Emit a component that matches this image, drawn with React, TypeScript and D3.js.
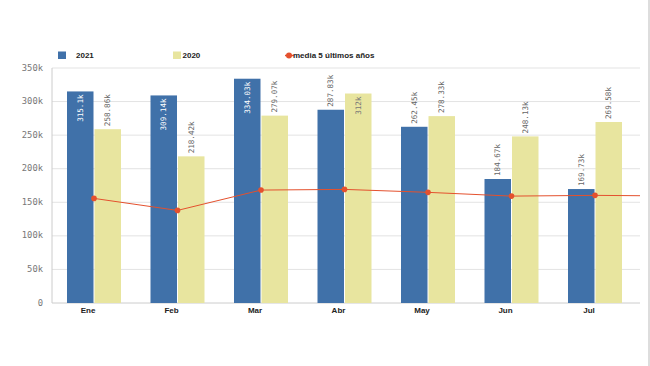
import React from 'react';
import * as d3 from 'd3';

const months = ['Ene', 'Feb', 'Mar', 'Abr', 'May', 'Jun', 'Jul'];
const values2021 = [315100, 309140, 334030, 287830, 262450, 184670, 169730];
const values2020 = [258860, 218420, 279070, 312000, 278330, 248130, 269580];
const labels2021 = ['315.1k', '309.14k', '334.03k', '287.83k', '262.45k', '184.67k', '169.73k'];
const labels2020 = ['258.86k', '218.42k', '279.07k', '312k', '278.33k', '248.13k', '269.58k'];
const media5 = [155800, 137900, 168200, 169200, 164800, 159200, 160300];
const yTicks = [0, 50000, 100000, 150000, 200000, 250000, 300000, 350000];

const W = 650;
const H = 366;
const plot = { left: 52, right: 640, top: 68, bottom: 303 };

const BLUE = '#4071a9';
const YELLOW = '#e8e59f';
const RED = '#e4512e';
const MONO = '"DejaVu Sans Mono", monospace';
const SANS = '"Liberation Sans", Arial, sans-serif';

export default function App() {
  const x0 = d3.scaleBand<string>().domain(months).range([52.25, 636.75]).padding(0);
  const y = d3.scaleLinear().domain([0, 350000]).range([plot.bottom, plot.top]);
  const barW = 26.5;
  const gap = 1;

  const center = (m: string) => (x0(m) ?? 0) + x0.bandwidth() / 2;

  const linePts: [number, number][] = months.map((m, i) => [center(m), y(media5[i])]);
  linePts.push([plot.right, y(media5[media5.length - 1] - 500)]);
  const line = d3.line();

  const barLabel = (cx: number, v: number, label: string, inside: string, key: string) => {
    const top = y(v);
    const fits = top - 3 - 35 >= plot.top;
    if (fits) {
      return (
        <text key={key} transform={`translate(${cx + 0.5},${top - 3}) rotate(-90)`}
          textAnchor="start" dominantBaseline="middle" fontFamily={MONO} fontSize={7.6} fill="#666">
          {label}
        </text>
      );
    }
    return (
      <text key={key} transform={`translate(${cx + 0.5},${top + 3}) rotate(-90)`}
        textAnchor="end" dominantBaseline="middle" fontFamily={MONO} fontSize={7.6} fill={inside}>
        {label}
      </text>
    );
  };

  return (
    <svg width={W} height={H} style={{ position: 'absolute', left: 0, top: 0, background: '#fff' }}>
      {/* legend */}
      <rect x={58} y={51.5} width={8} height={7.5} fill={BLUE} />
      <text x={76} y={55.5} dominantBaseline="middle" fontFamily={SANS} fontSize={8} fontWeight="bold" fill="#222">2021</text>
      <rect x={173} y={51.5} width={8} height={7.5} fill={YELLOW} />
      <text x={182.5} y={55.5} dominantBaseline="middle" fontFamily={SANS} fontSize={8} fontWeight="bold" fill="#222">2020</text>
      <line x1={285} x2={294} y1={55.5} y2={55.5} stroke={RED} strokeWidth={1.5} />
      <circle cx={289} cy={55.5} r={3} fill={RED} />
      <text x={293} y={55.5} dominantBaseline="middle" fontFamily={SANS} fontSize={8} fontWeight="bold" fill="#222">media 5 últimos años</text>

      {/* grid */}
      {yTicks.map(t => (
        <g key={t}>
          <line x1={plot.left} x2={plot.right} y1={y(t)} y2={y(t)} stroke={t === 0 ? '#ccc' : '#e3e3e3'} strokeWidth={1} />
          <text x={43} y={y(t)} textAnchor="end" dominantBaseline="middle" fontFamily={MONO} fontSize={8.8} fill="#777">
            {t === 0 ? '0' : `${t / 1000}k`}
          </text>
        </g>
      ))}
      <line x1={plot.left} x2={plot.left} y1={plot.top} y2={plot.bottom} stroke="#ccc" />

      {/* bars */}
      {months.map((m, i) => {
        const c = center(m);
        return (
          <g key={m}>
            <rect x={c - gap / 2 - barW} y={y(values2021[i])} width={barW} height={plot.bottom - y(values2021[i])} fill={BLUE} />
            <rect x={c + gap / 2} y={y(values2020[i])} width={barW} height={plot.bottom - y(values2020[i])} fill={YELLOW} />
          </g>
        );
      })}

      {/* media line */}
      <path d={line(linePts) ?? ''} fill="none" stroke={RED} strokeWidth={1} />
      {months.map((m, i) => (
        <circle key={m} cx={center(m)} cy={y(media5[i])} r={2.8} fill={RED} />
      ))}

      {/* data labels */}
      {months.map((m, i) => {
        const c = center(m);
        return (
          <g key={m}>
            {barLabel(c - gap / 2 - barW / 2, values2021[i], labels2021[i], '#fff', 'a')}
            {barLabel(c + gap / 2 + barW / 2, values2020[i], labels2020[i], '#777', 'b')}
          </g>
        );
      })}

      {/* x labels */}
      {months.map(m => (
        <text key={m} x={center(m) - 6} y={311} textAnchor="middle" dominantBaseline="middle"
          fontFamily={SANS} fontSize={8} fontWeight="bold" fill="#222">{m}</text>
      ))}

      {/* right edge frame */}
      <line x1={649} x2={649} y1={0} y2={H} stroke="#bbb" />
    </svg>
  );
}
